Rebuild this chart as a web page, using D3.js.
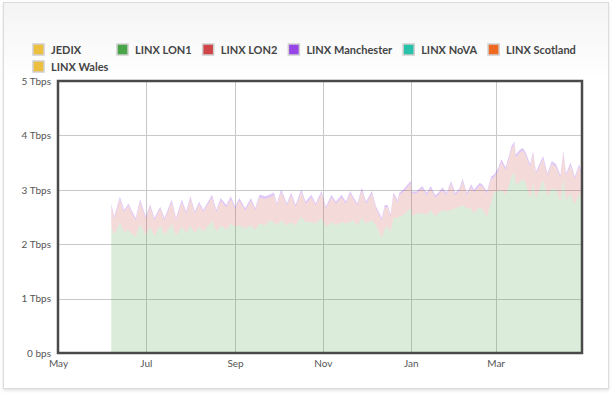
<!DOCTYPE html>
<html>
<head>
<meta charset="utf-8">
<script src="https://cdn.jsdelivr.net/npm/d3@7"></script>
<style>
  body { margin: 0; background: #fff; }
  text { font-family: Lato, "Open Sans", sans-serif; }
</style>
</head>
<body>
<div id="chart"></div>
<script>
// daily samples (Tbps)
var dates = ["2018-06-07","2018-06-09","2018-06-13","2018-06-16","2018-06-19","2018-06-21","2018-06-24","2018-06-27",
  "2018-07-01","2018-07-04","2018-07-07","2018-07-11","2018-07-14","2018-07-19","2018-07-22","2018-07-26","2018-07-29",
  "2018-08-01","2018-08-04","2018-08-07","2018-08-10","2018-08-16","2018-08-19","2018-08-22","2018-08-26","2018-08-29",
  "2018-09-01","2018-09-04","2018-09-08","2018-09-12","2018-09-15","2018-09-18","2018-09-22","2018-09-25","2018-09-28","2018-09-30",
  "2018-10-03","2018-10-07","2018-10-10","2018-10-13","2018-10-17","2018-10-20","2018-10-24","2018-10-27","2018-10-31",
  "2018-11-03","2018-11-07","2018-11-10","2018-11-14","2018-11-17","2018-11-20","2018-11-22","2018-11-25","2018-11-28",
  "2018-12-01","2018-12-05","2018-12-08","2018-12-12","2018-12-14","2018-12-16","2018-12-18","2018-12-20","2018-12-23","2018-12-24","2018-12-27",
  "2019-01-01","2019-01-02","2019-01-05","2019-01-09","2019-01-12","2019-01-15","2019-01-18","2019-01-20","2019-01-23","2019-01-26","2019-01-29",
  "2019-02-01","2019-02-04","2019-02-06","2019-02-09","2019-02-12","2019-02-14","2019-02-18","2019-02-20","2019-02-23","2019-02-26","2019-02-28",
  "2019-03-03","2019-03-05","2019-03-08","2019-03-12","2019-03-14","2019-03-15","2019-03-18","2019-03-20","2019-03-22","2019-03-25","2019-03-27","2019-03-29",
  "2019-04-03","2019-04-06","2019-04-09","2019-04-12","2019-04-15","2019-04-17","2019-04-19","2019-04-22","2019-04-25","2019-04-28","2019-04-30"];

var lon1 = [2.32,2.17,2.40,2.23,2.26,2.20,2.14,2.37,
  2.17,2.32,2.14,2.35,2.17,2.37,2.14,2.32,2.20,
  2.35,2.20,2.32,2.23,2.43,2.23,2.35,2.26,2.38,
  2.32,2.35,2.29,2.35,2.26,2.38,2.35,2.44,2.41,2.35,
  2.44,2.35,2.41,2.35,2.51,2.41,2.41,2.38,2.48,
  2.32,2.41,2.35,2.41,2.38,2.41,2.44,2.35,2.48,
  2.38,2.44,2.35,2.11,2.29,2.32,2.23,2.48,2.48,2.51,2.54,
  2.66,2.51,2.57,2.57,2.54,2.63,2.51,2.57,2.63,2.60,2.63,
  2.66,2.69,2.72,2.66,2.66,2.57,2.69,2.63,2.51,2.78,2.97,
  2.97,3.00,2.90,3.24,3.33,3.09,3.15,3.21,3.12,2.84,3.12,2.84,
  3.18,2.87,3.03,3.00,2.78,3.21,2.81,2.94,2.72,2.94,2.81];

var lon2 = [0.39,0.30,0.42,0.36,0.45,0.39,0.30,0.40,
  0.30,0.37,0.30,0.30,0.27,0.40,0.30,0.45,0.36,
  0.48,0.36,0.42,0.36,0.43,0.36,0.45,0.42,0.45,
  0.33,0.45,0.33,0.45,0.36,0.48,0.48,0.42,0.49,0.36,
  0.52,0.36,0.49,0.33,0.45,0.33,0.45,0.33,0.45,
  0.33,0.45,0.39,0.45,0.36,0.52,0.39,0.36,0.51,
  0.36,0.49,0.30,0.33,0.39,0.36,0.27,0.42,0.29,0.39,0.42,
  0.45,0.42,0.36,0.45,0.36,0.39,0.35,0.33,0.36,0.30,0.48,
  0.24,0.30,0.44,0.24,0.39,0.39,0.39,0.42,0.42,0.42,0.26,
  0.39,0.51,0.46,0.51,0.51,0.51,0.54,0.51,0.51,0.58,0.54,0.45,
  0.39,0.39,0.45,0.42,0.45,0.45,0.45,0.51,0.48,0.48,0.45];

var manchester = [0.04,0.04,0.05,0.04,0.04,0.04,0.04,0.05,
  0.04,0.04,0.04,0.04,0.04,0.05,0.04,0.05,0.04,
  0.05,0.04,0.04,0.04,0.05,0.04,0.05,0.04,0.05,
  0.04,0.05,0.04,0.05,0.04,0.05,0.05,0.05,0.05,0.04,
  0.05,0.04,0.05,0.04,0.05,0.04,0.05,0.04,0.05,
  0.04,0.05,0.04,0.05,0.04,0.05,0.04,0.04,0.05,
  0.04,0.05,0.04,0.04,0.04,0.04,0.04,0.05,0.04,0.04,0.05,
  0.05,0.04,0.04,0.05,0.04,0.05,0.04,0.04,0.05,0.04,0.05,
  0.04,0.04,0.05,0.04,0.05,0.04,0.05,0.04,0.04,0.05,0.05,
  0.05,0.05,0.05,0.05,0.05,0.05,0.05,0.05,0.05,0.05,0.05,0.04,
  0.05,0.04,0.05,0.05,0.04,0.05,0.04,0.05,0.04,0.05,0.04];

var legendNames = ["JEDIX", "LINX LON1", "LINX LON2", "LINX Manchester", "LINX NoVA", "LINX Scotland", "LINX Wales"];
var legendColors = ["#ecbf3f", "#4aa548", "#cf4548", "#9646e6", "#28c1a9", "#ee6a22", "#ecbf3f"];

var yTicks = [0, 1, 2, 3, 4, 5];
var yTickLabels = ["0 bps", "1 Tbps", "2 Tbps", "3 Tbps", "4 Tbps", "5 Tbps"];

var width = 612, height = 395;
var margin = { left: 58, right: 30, top: 81, bottom: 42 };

var parse = d3.timeParse("%Y-%m-%d");
var rows = dates.map(function (d, i) {
  return { date: parse(d), lon1: lon1[i], lon2: lon2[i], manchester: manchester[i] };
});

var svg = d3.select("#chart").append("svg")
  .attr("width", width)
  .attr("height", height);

// card background
var defs = svg.append("defs");
var bg = defs.append("linearGradient").attr("id", "cardbg").attr("x1", 0).attr("y1", 0).attr("x2", 0).attr("y2", 1);
bg.append("stop").attr("offset", "0").attr("stop-color", "#f4f4f4");
bg.append("stop").attr("offset", "0.2").attr("stop-color", "#ffffff");
bg.append("stop").attr("offset", "1").attr("stop-color", "#ffffff");

var shadow = defs.append("filter").attr("id", "shadow").attr("x", "-5%").attr("y", "-5%").attr("width", "110%").attr("height", "115%");
shadow.append("feDropShadow").attr("dx", 0).attr("dy", 1.5).attr("stdDeviation", 1.5).attr("flood-color", "#000").attr("flood-opacity", 0.12);

svg.append("rect")
  .attr("x", 3.5).attr("y", 2.5)
  .attr("width", 605).attr("height", 386)
  .attr("fill", "url(#cardbg)")
  .attr("stroke", "#dcdcdc")
  .attr("filter", "url(#shadow)");

var x = d3.scaleTime()
  .domain([parse("2018-05-01"), parse("2019-04-30")])
  .range([margin.left, width - margin.right]);

var y = d3.scaleLinear()
  .domain([0, 5])
  .range([height - margin.bottom, margin.top]);

// grid
var xTicks = x.ticks(d3.timeMonth.every(2));
svg.append("g").selectAll("line").data(xTicks).enter().append("line")
  .attr("x1", function (d) { return Math.round(x(d)) + 0.5; })
  .attr("x2", function (d) { return Math.round(x(d)) + 0.5; })
  .attr("y1", y(5)).attr("y2", y(0))
  .attr("stroke", "#c8c8c8");

svg.append("g").selectAll("line").data(yTicks).enter().append("line")
  .attr("x1", x.range()[0]).attr("x2", x.range()[1])
  .attr("y1", function (d) { return Math.round(y(d)) + 0.5; })
  .attr("y2", function (d) { return Math.round(y(d)) + 0.5; })
  .attr("stroke", "#c8c8c8");

// stacked areas
var keys = ["lon1", "lon2", "manchester"];
var keyColors = { lon1: legendColors[1], lon2: legendColors[2], manchester: legendColors[3] };
var series = d3.stack().keys(keys)(rows);

var area = d3.area()
  .x(function (d) { return x(d.data.date); })
  .y0(function (d) { return y(d[0]); })
  .y1(function (d) { return y(d[1]); });

svg.append("g").selectAll("path").data(series).enter().append("path")
  .attr("d", area)
  .attr("fill", function (d) { return keyColors[d.key]; })
  .attr("fill-opacity", function (d) { return d.key == "manchester" ? 0.3 : 0.2; });

// plot frame
svg.append("rect")
  .attr("x", x.range()[0]).attr("y", y(5))
  .attr("width", x.range()[1] - x.range()[0])
  .attr("height", y(0) - y(5))
  .attr("fill", "none")
  .attr("stroke", "#4a4a4a")
  .attr("stroke-width", 2.5);

// axes labels
var yAxis = d3.axisLeft(y).tickValues(yTicks).tickSize(0).tickPadding(7)
  .tickFormat(function (d, i) { return yTickLabels[i]; });
var gy = svg.append("g").attr("transform", "translate(" + x.range()[0] + ",0)").call(yAxis);
gy.select(".domain").remove();
gy.selectAll("text").attr("fill", "#555").style("font-size", "10px").style("font-family", "Lato, sans-serif");

var xAxis = d3.axisBottom(x).tickValues(xTicks).tickSize(0).tickPadding(7).tickFormat(d3.timeFormat("%b"));
var gx = svg.append("g").attr("transform", "translate(0," + y(0) + ")").call(xAxis);
gx.select(".domain").remove();
gx.selectAll("text").attr("fill", "#555").style("font-size", "10px").style("font-family", "Lato, sans-serif");

// legend
var legend = svg.append("g");
var lx = 33, ly = 44;
legendNames.forEach(function (name, i) {
  var item = legend.append("g");
  item.append("rect")
    .attr("width", 11).attr("height", 11)
    .attr("fill", legendColors[i])
    .attr("stroke", "#cfcfcf")
    .attr("stroke-width", 1.5);
  var t = item.append("text")
    .attr("x", 18).attr("y", 10)
    .attr("fill", "#444")
    .style("font-size", "11px")
    .style("font-weight", "bold")
    .text(name);
  var w = Math.max(84, 18 + t.node().getComputedTextLength() + 11);
  if (lx + w > 600) { lx = 33; ly += 17; }
  item.attr("transform", "translate(" + lx + "," + ly + ")");
  lx += w;
});
</script>
</body>
</html>
